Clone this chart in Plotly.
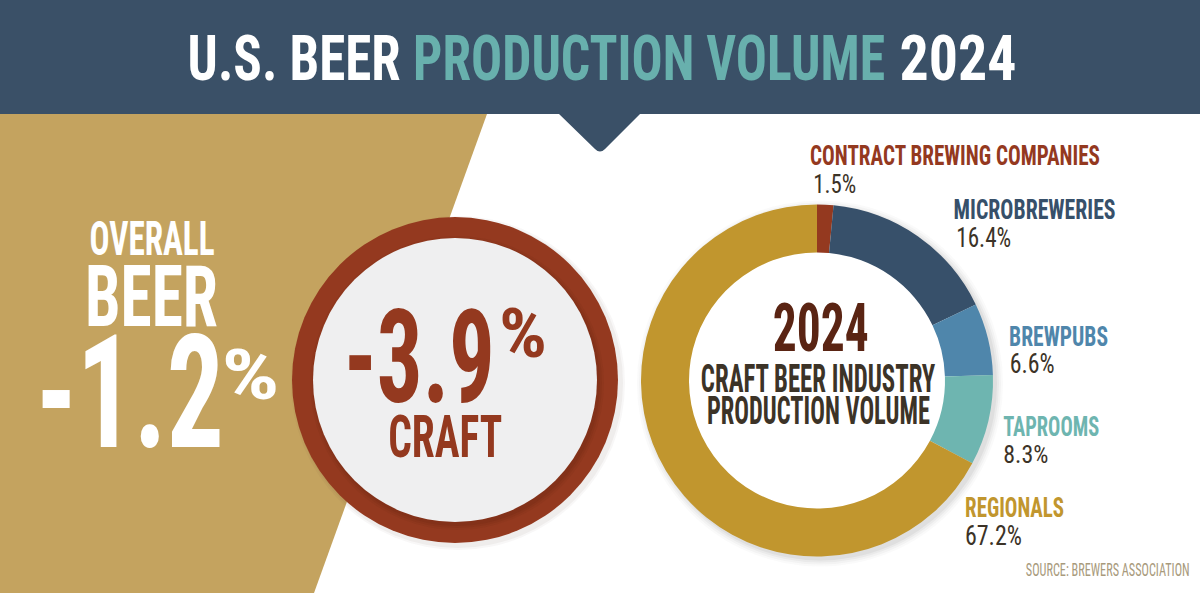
import json
import plotly.graph_objects as go

categories = ["CONTRACT BREWING COMPANIES", "MICROBREWERIES", "BREWPUBS", "TAPROOMS", "REGIONALS"]
shares = [1.5, 16.4, 6.6, 8.3, 67.2]
colors = ["#94391f", "#37506a", "#4f86ab", "#6eb5b0", "#c1962e"]
W, H = 1200, 593
FONT = "Roboto Condensed"
NAVY, TEAL, GOLD, RUST = "#3a5067", "#68b0ad", "#c4a35f", "#94391f"
DARK = "#3c3327"

fig = go.Figure()
cx, cy, r = 817, 380.5, 176
fig.add_trace(go.Pie(values=shares, labels=categories, sort=False, direction="clockwise", rotation=0,
                     hole=128/176, marker=dict(colors=colors, line=dict(width=0)), textinfo="none", showlegend=False,
                     domain=dict(x=[(cx-r)/W, (cx+r)/W], y=[(H-cy-r)/H, (H-cy+r)/H])))

def px(x):
    return x / W

def py(y):
    return 1 - y / H

def path(cmds):
    return " ".join(c if isinstance(c, str) else f"{px(c[0]):.5f},{py(c[1]):.5f}" for c in cmds)

def circle(x, y, rad, fill, opacity=1):
    return dict(type="circle", xref="paper", yref="paper", x0=px(x-rad), x1=px(x+rad), y0=py(y+rad), y1=py(y-rad),
                fillcolor=fill, line_width=0, opacity=opacity, layer="below")

shapes = [
    dict(type="path", xref="paper", yref="paper", path=path(["M", (0, 114), "L", (487, 114), "L", (314, 593), "L", (0, 593), "Z"]),
         fillcolor=GOLD, line_width=0, layer="below"),
    dict(type="rect", xref="paper", yref="paper", x0=0, x1=1, y0=py(114), y1=1, fillcolor=NAVY, line_width=0, layer="below"),
    dict(type="path", xref="paper", yref="paper",
         path=path(["M", (558, 113), "L", (641, 113), "L", (605, 149), "Q", (600, 154), (595, 149), "Z"]),
         fillcolor=NAVY, line_width=0, layer="below"),
]
for d, op in [(7, 0.03), (5, 0.04), (3, 0.05), (1, 0.07)]:
    shapes.append(circle(cx + 3, cy + 3, r + d, "#555555", op))
shapes.append(circle(cx, cy, r - 30, "white"))
for d, op in [(4, 0.04), (2, 0.05)]:
    shapes.append(circle(458, 383, 163 + d, "#4a3a2a", op))
shapes += [circle(455, 380, 163, RUST)]
for d, op in [(5, 0.06), (3, 0.08), (1, 0.10)]:
    shapes.append(circle(457, 383, 142 + d, "#4a1a08", op))
shapes.append(circle(455, 380, 142, "#efeff0"))

widths = []

def txt(x0, x1, yc, cap, s, color, bold=True):
    label = f"<b>{s}</b>" if bold else s
    fig.add_annotation(xref="paper", yref="paper", x=px((x0 + x1) / 2), y=py(yc), text=label, showarrow=False,
                       xanchor="center", yanchor="middle", font=dict(family=FONT, size=cap / 0.711, color=color))
    widths.append(x1 - x0)

txt(187, 400, 58, 45, "U.S. BEER", "white")
txt(413, 885, 58, 45, "PRODUCTION VOLUME", TEAL)
txt(899, 1016, 58, 45, "2024", "white")
txt(89, 214, 239, 34, "OVERALL", "white")
txt(85, 218, 297, 60, "BEER", "white")
txt(36, 224, 393, 112, "-1.2", "white")
txt(221, 279, 375, 50, "%", "white")
txt(344, 495, 358, 92, "-3.9", RUST)
txt(499, 547, 333, 49, "%", RUST)
txt(388, 502, 436, 42, "CRAFT", RUST)
txt(773, 869, 328, 47, "2024", "#5a2413")
txt(701, 936, 378, 28, "CRAFT BEER INDUSTRY", DARK)
txt(707, 930, 411, 27, "PRODUCTION VOLUME", DARK)
name_pos = [(810, 1100, 155, 20), (953, 1115, 209.5, 19), (1009, 1108, 336, 20), (1003, 1099, 426, 20), (965, 1064, 507, 20)]
value_pos = [(813, 856, 184, 18), (956, 1011, 238, 19), (1009, 1054, 364, 19), (1003, 1048, 454, 18), (965, 1022, 535, 20)]
for name, value, c, np_, vp in zip(categories, shares, colors, name_pos, value_pos):
    txt(*np_, name, c)
    txt(*vp, f"{value}%", DARK, bold=False)
txt(1025, 1189, 570, 12.5, "SOURCE: BREWERS ASSOCIATION", "#a89a7c", bold=False)

fig.update_layout(width=W, height=H, margin=dict(l=0, r=0, t=0, b=0), paper_bgcolor="white", plot_bgcolor="white",
                  shapes=shapes)
squeeze = ("document.body.style.margin='0';document.body.style.overflow='hidden';"
           "var ws=" + json.dumps(widths) + ";"
           "document.querySelectorAll('.annotation-text').forEach(function(t,i){"
           "var k=ws[i]/t.getBBox().width;t.style.transformBox='fill-box';t.style.transformOrigin='center';"
           "t.style.transform='scaleX('+k+')';});")
fig.write_html("out.html", config=dict(displayModeBar=False), post_script=squeeze)
